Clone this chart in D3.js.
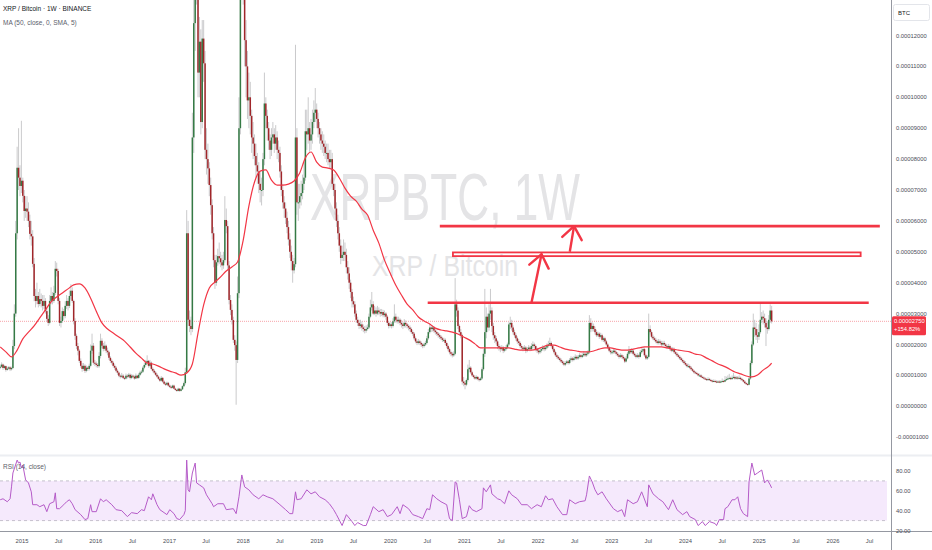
<!DOCTYPE html>
<html><head><meta charset="utf-8">
<script src="https://cdn.jsdelivr.net/npm/d3@7"></script>
<style>
body{margin:0;background:#fff}
svg{display:block;font-family:"Liberation Sans",Arial,sans-serif}
</style>
</head><body>
<svg id="c" width="932" height="550"></svg>
<script>
// ===== DATA (prices in units of 1e-7 BTC) =====
const UNIT = 1e-7;
const firstWeek = "2014-09-15";
const firstOpen = 126;
const closes = [
128,135,124,130,118,122,126,120,124,195,
300,560,772,740,713,730,681,632,640,630,
600,558,550,461,357,341,357,331,347,341,
325,341,308,283,270,341,357,341,367,445,
438,341,270,276,308,292,325,341,325,357,
374,341,276,228,195,180,147,131,121,131,
115,125,121,131,180,196,141,138,134,130,
163,212,196,186,196,180,175,157,147,141,
131,125,115,109,99,96,99,92,90,99,
96,102,92,99,96,90,99,92,102,109,
112,125,134,141,147,131,141,121,115,109,
102,96,89,83,92,80,73,70,76,67,
63,60,67,57,53,50,57,50,55,65,
75,110,560,280,260,250,870,1240,1600,1450,
1080,1180,920,1190,1110,830,800,770,716,651,
560,473,400,466,486,479,466,456,473,603,
583,456,344,312,279,215,198,150,366,900,
1500,1800,1400,1185,1100,990,1000,940,870,850,
810,780,760,720,700,700,800,980,940,900,
860,830,870,880,850,870,830,820,760,700,
660,640,610,580,540,500,470,440,460,870,
660,660,680,690,720,740,890,880,900,860,
880,920,950,960,930,900,880,860,850,840,
820,820,800,790,800,720,700,640,600,560,
520,480,490,500,490,450,430,400,370,340,
330,300,280,270,260,265,255,250,245,250,
255,290,320,330,300,310,300,310,305,300,
305,295,300,290,270,260,265,260,275,290,
280,275,280,270,265,260,270,265,260,255,
250,240,235,220,210,205,210,205,200,195,
200,205,220,240,255,250,255,245,240,235,
230,225,220,215,215,205,195,185,175,170,
165,170,330,310,260,240,230,80,75,70,
85,120,125,110,100,95,90,95,88,85,
90,120,170,240,290,255,300,310,260,230,
220,210,195,190,185,190,180,185,190,200,
265,270,255,240,230,220,210,205,195,190,
185,190,180,185,190,185,195,200,195,185,
180,175,180,185,190,185,190,195,200,205,
195,185,175,165,160,155,150,145,140,135,
140,145,140,150,155,150,155,160,155,160,
165,160,165,170,165,170,175,270,250,260,
250,240,230,235,225,230,215,220,210,200,
190,180,175,175,180,175,170,165,160,165,
160,155,145,155,170,180,175,180,170,165,
160,165,160,175,180,185,165,155,160,250,
240,225,220,215,210,205,210,205,200,205,
200,195,190,195,185,180,185,175,170,165,
160,155,150,145,140,135,130,130,125,120,
115,110,108,105,100,100,95,93,90,88,
85,88,85,83,80,82,80,78,80,78,
80,82,80,85,88,90,92,88,92,95,
90,93,90,92,88,85,80,75,72,70,
90,140,200,255,250,230,225,240,280,290,
285,270,255,250,280,310,275];
const highs = [
135,142,138,134,132,128,130,130,128,215,
330,600,840,900,780,924,740,700,680,680,
660,620,600,570,480,380,400,370,380,365,
360,360,350,320,295,360,385,370,390,470,
465,445,350,290,320,315,340,360,350,375,
395,385,345,285,235,205,185,155,140,140,
136,132,130,138,200,235,205,150,145,140,
175,235,220,205,210,200,190,180,162,152,
146,138,130,120,112,103,108,104,96,106,
104,108,106,104,103,100,106,102,108,115,
118,130,142,150,165,150,150,145,126,120,
114,107,100,93,98,95,84,78,80,79,
71,67,70,70,60,56,60,59,58,68,
80,125,635,600,310,290,950,1400,1900,1800,
1500,1260,1220,1250,1250,1150,900,850,790,740,
670,580,490,490,510,530,500,490,500,680,
640,600,470,360,330,290,230,210,420,1000,
1700,2200,1900,1500,1250,1150,1080,1050,960,920,
880,850,820,790,760,740,820,1080,1000,960,
920,880,900,920,900,910,890,860,840,780,
720,680,660,630,600,560,520,490,480,1170,
900,720,720,730,750,790,960,960,1000,920,
930,960,990,1030,980,950,920,900,890,880,
860,850,850,830,830,820,740,720,660,620,
580,540,520,540,530,510,470,450,410,380,
355,340,310,290,280,280,275,265,260,262,
265,300,345,370,340,325,320,325,320,315,
315,312,310,305,295,275,272,272,285,330,
300,290,290,285,280,272,282,278,270,265,
262,255,246,240,226,216,218,215,210,205,
206,212,228,250,266,262,262,260,250,245,
240,236,230,225,222,220,210,200,190,180,
176,178,415,345,320,265,250,235,95,82,
90,135,150,130,115,104,100,100,98,92,
95,126,185,380,320,300,330,380,320,270,
240,228,215,202,196,198,195,192,198,206,
272,290,280,262,248,236,226,218,210,202,
195,198,195,192,198,196,204,210,206,200,
190,186,188,192,198,196,198,204,212,222,
210,200,190,180,170,165,160,155,150,146,
146,150,150,156,162,160,162,168,165,166,
172,170,172,178,175,178,182,295,285,272,
268,258,248,242,240,238,235,226,225,215,
205,195,186,182,186,185,180,176,170,172,
170,166,160,162,176,195,186,188,184,175,
170,172,170,182,188,192,190,170,165,300,
262,246,232,226,222,216,218,216,212,212,
212,205,200,202,200,192,192,190,180,175,
170,165,160,155,150,146,140,138,135,130,
124,118,114,112,108,106,104,99,97,94,
92,94,92,89,86,87,86,84,84,84,
84,90,86,98,96,100,105,96,100,108,
100,98,98,100,96,92,88,84,78,76,
95,148,210,300,280,270,250,265,337,305,
310,300,285,275,295,330,325];
const lows = [
120,125,118,120,112,115,118,114,116,120,
185,290,540,700,680,690,660,600,610,600,
580,540,520,450,340,320,330,320,325,320,
310,315,300,275,260,265,330,330,335,360,
420,330,260,255,270,280,285,315,310,318,
345,335,265,215,185,165,140,125,112,115,
108,110,114,116,126,170,135,130,126,124,
125,155,188,178,180,172,165,150,140,135,
125,118,110,102,94,90,92,88,85,87,
90,92,87,88,91,86,88,88,89,98,
104,108,120,128,135,125,126,116,110,104,
98,92,85,79,80,76,70,66,67,63,
59,56,58,55,50,47,48,47,48,53,
62,70,105,260,240,230,240,820,1150,1300,
1000,1000,880,900,1050,800,750,720,680,620,
540,450,380,390,455,460,450,440,445,465,
560,440,330,295,265,205,180,5,140,350,
880,1400,1300,1100,1000,930,900,880,820,800,
780,740,720,690,660,650,680,780,900,860,
830,800,810,850,820,830,800,790,740,680,
640,610,590,560,520,480,440,400,430,450,
620,600,640,650,670,700,730,830,850,820,
830,850,900,920,900,870,850,830,820,810,
800,790,780,770,770,700,680,620,580,540,
500,460,470,470,470,430,410,380,350,320,
320,290,270,260,250,252,245,240,236,238,
245,250,285,310,295,295,290,295,295,290,
292,288,288,280,262,252,255,252,255,270,
270,268,268,262,255,250,255,255,252,246,
242,234,228,214,204,198,200,198,192,188,
190,195,200,215,235,240,242,238,232,228,
222,218,214,208,208,198,188,178,168,162,
158,160,165,290,250,230,220,70,65,55,
65,80,110,105,96,90,86,86,84,80,
82,86,115,160,220,240,245,280,240,215,
205,200,185,180,175,180,172,175,180,185,
195,250,245,232,222,212,202,198,188,183,
178,180,172,175,180,178,180,188,186,178,
172,168,170,174,180,178,180,185,190,195,
190,180,170,160,154,150,145,140,135,130,
130,136,135,136,145,145,146,150,150,150,
155,155,156,160,160,160,165,170,240,242,
242,232,224,225,218,220,210,208,204,194,
185,175,168,168,170,170,164,160,154,156,
154,150,140,142,152,165,170,170,165,160,
155,156,154,158,170,175,160,150,150,155,
232,220,214,210,204,200,200,200,194,196,
194,190,185,186,180,175,176,170,165,160,
155,150,145,140,135,130,126,125,120,116,
111,106,104,101,97,96,92,90,87,85,
82,83,82,80,77,78,77,75,76,75,
75,77,77,78,82,85,87,85,86,89,
86,87,86,87,84,82,77,72,69,67,
68,86,135,195,225,215,205,215,235,270,
265,255,195,235,245,270,268];
// MA(50), one value every 4 weeks (last = final week)
const ma50Every4 = [
192,176,160,182,218,240,260,286,312,338,
354,367,380,393,396,383,350,308,270,250,
237,224,211,192,172,156,140,137,130,121,
114,108,101,108,137,237,328,383,402,419,
438,451,467,538,648,726,761,765,732,716,
716,719,729,755,804,823,790,774,771,765,
739,706,680,664,638,619,570,528,473,431,
392,360,331,312,289,276,266,253,247,244,
240,234,224,215,202,189,189,189,189,189,
189,185,182,182,182,185,192,198,198,192,
185,182,179,176,176,179,185,189,189,185,
182,182,185,189,192,192,192,192,189,185,
182,179,176,169,166,156,147,137,130,121,
111,105,98,95,101,117,130,140];
// RSI(14): week index -> value
const rsiWeek = [0,2,5,7,8,9,12,13,14,15,16,18,20,22,23,26,28,31,33,35,38,39,40,42,45,47,49,51,53,57,60,62,64,65,68,71,73,75,79,82,86,90,93,97,100,102,105,107,108,111,113,118,120,123,125,127,130,131,132,133,134,136,138,139,141,144,146,150,151,154,158,160,165,167,169,171,173,176,179,183,186,189,193,198,202,205,207,209,210,213,217,220,223,226,230,233,236,238,242,245,249,251,253,257,259,262,264,268,271,274,277,281,283,285,289,292,296,299,302,304,306,309,312,316,318,320,322,323,325,327,330,332,334,337,341,342,344,347,348,352,354,357,360,362,366,369,373,376,380,383,386,388,391,394,398,401,403,407,410,414,415,417,419,421,423,426,429,434,437,440,442,444,448,451,454,458,459,462,466,469,473,476,479,483,486,488,492,494,497,499,502,506,507,509,512,513,515,518,520,522,524,526,529,530,532,534,536,539,541,543,545,546];
const rsiValue = [51,52,49,52,64,78,91,88,89,83,86,71,68,59,46,46,44,46,39,47,49,58,42,42,46,49,51,47,41,36,31,32,46,39,39,52,49,51,46,41,40,34,38,37,41,40,54,51,57,46,41,36,41,37,32,31,36,40,91,61,59,78,88,68,66,63,56,47,44,47,47,41,42,37,54,76,64,61,56,52,56,54,52,46,41,37,37,59,51,52,61,57,59,54,51,47,41,36,25,36,29,25,28,25,25,36,44,39,41,34,36,44,37,46,42,36,34,32,42,41,56,52,49,46,32,30,69,68,51,32,34,45,41,39,42,63,59,66,57,52,51,47,60,56,52,46,46,42,46,44,55,51,52,44,36,36,51,47,49,50,56,75,69,61,56,59,52,42,39,41,34,51,47,49,59,44,66,57,52,49,41,51,41,36,39,34,31,25,29,25,29,27,25,31,31,42,44,51,51,54,42,37,34,69,88,76,78,81,68,71,66,63];
const priceTicks = [0.00012,0.00011,0.0001,0.00009,0.00008,0.00007,0.00006,0.00005,0.00004,0.00003,0.00002,0.00001,0,-0.00001];
const rsiTicks = [80,60,40,20];
const tickYears = [2015,2016,2017,2018,2019,2020,2021,2022,2023,2024,2025,2026];
const lastPriceLabel = "0.00002750", lastChangeLabel = "+154.82%";
const lastPrice = 0.0000275;
// user drawings (price levels in BTC, anchored to dates)
const hLines = [
  {price:0.0000583, from:"2020-09-01", to:"2026-08-21"},
  {price:0.0000335, from:"2020-07-03", to:"2026-06-27"}];
const boxes = [{top:0.0000498, bottom:0.0000486, from:"2020-11-05", to:"2026-05-18"}];
const arrows = [
  {from:["2021-11-29",0.0000335], to:["2022-01-18",0.0000492]},
  {from:["2022-06-07",0.0000500], to:["2022-06-28",0.0000583]}];

// ===== LAYOUT =====
const W=932,H=550, axisX=891, mainBottom=455, rsiBottom=531;
const svg=d3.select("#c");
const n=closes.length;
const t0=new Date(firstWeek+"T00:00:00Z");
const dates=d3.range(n).map(i=>d3.utcDay.offset(t0,7*i));
const x=d3.scaleUtc().domain([Date.UTC(2015,0,1),Date.UTC(2026,0,1)]).range([22,833]);
const y=d3.scaleLinear().domain([0,0.00012]).range([406.3,35.5]);
const yr=d3.scaleLinear().domain([20,80]).range([530.5,471]);
const pd=s=>new Date(s+"T00:00:00Z");

const defs=svg.append("defs");
defs.append("clipPath").attr("id","cm").append("rect").attr("x",0).attr("y",0).attr("width",axisX).attr("height",mainBottom);
defs.append("clipPath").attr("id","cr").append("rect").attr("x",0).attr("y",mainBottom+1).attr("width",axisX).attr("height",rsiBottom-mainBottom-1);

svg.append("rect").attr("width",W).attr("height",H).attr("fill","#fff");

// ===== MAIN PANE =====
const gm=svg.append("g").attr("clip-path","url(#cm)");
gm.append("text").attr("x",310).attr("y",220).attr("font-size",66).attr("fill","#e4e4e6")
  .attr("textLength",270).attr("lengthAdjust","spacingAndGlyphs").text("XRPBTC, 1W");
gm.append("text").attr("x",372).attr("y",276).attr("font-size",29).attr("fill","#e4e4e6")
  .attr("textLength",146).attr("lengthAdjust","spacingAndGlyphs").text("XRP / Bitcoin");
gm.append("line").attr("x1",0).attr("x2",axisX).attr("y1",y(lastPrice)).attr("y2",y(lastPrice))
  .attr("stroke","#f7a3aa").attr("stroke-width",1).attr("stroke-dasharray","1,1");
const opens=closes.map((c,i)=>i===0?firstOpen:closes[i-1]);
const cg=gm.append("g");
cg.selectAll("line.w").data(d3.range(n)).join("line").attr("class","w")
  .attr("x1",i=>x(dates[i])).attr("x2",i=>x(dates[i]))
  .attr("y1",i=>y(highs[i]*UNIT)).attr("y2",i=>y(lows[i]*UNIT))
  .attr("stroke","#c4c4c6").attr("stroke-width",0.9);
cg.selectAll("rect.b").data(d3.range(n)).join("rect").attr("class","b")
  .attr("x",i=>x(dates[i])-0.75).attr("width",1.5)
  .attr("y",i=>y(Math.max(opens[i],closes[i])*UNIT))
  .attr("height",i=>Math.max(1,Math.abs(y(opens[i]*UNIT)-y(closes[i]*UNIT))))
  .attr("fill",i=>closes[i]>=opens[i]?"#357a45":"#a0262a");
const maPts=ma50Every4.map((v,k)=>[dates[Math.min(k*4,n-1)],v]);
gm.append("path").attr("d",d3.line().x(d=>x(d[0])).y(d=>y(d[1]*UNIT)).curve(d3.curveMonotoneX)(maPts))
  .attr("fill","none").attr("stroke","#f23645").attr("stroke-width",1.2);
const red="#f23645";
hLines.forEach(l=>gm.append("line").attr("x1",x(pd(l.from))).attr("x2",x(pd(l.to)))
  .attr("y1",y(l.price)).attr("y2",y(l.price)).attr("stroke",red).attr("stroke-width",2.6));
boxes.forEach(b=>gm.append("rect").attr("x",x(pd(b.from))).attr("width",x(pd(b.to))-x(pd(b.from)))
  .attr("y",y(b.top)).attr("height",y(b.bottom)-y(b.top)).attr("fill","none").attr("stroke",red).attr("stroke-width",1.8));
arrows.forEach(a=>{
  const x1=x(pd(a.from[0])),y1=y(a.from[1]),x2=x(pd(a.to[0])),y2=y(a.to[1]);
  gm.append("line").attr("x1",x1).attr("y1",y1).attr("x2",x2).attr("y2",y2).attr("stroke",red).attr("stroke-width",2.4);
  const ang=Math.atan2(y1-y2,x1-x2), L=16, sp=38*Math.PI/180;
  [ang-sp,ang+sp].forEach(a2=>gm.append("line").attr("x1",x2).attr("y1",y2)
    .attr("x2",x2+L*Math.cos(a2)).attr("y2",y2+L*Math.sin(a2)).attr("stroke",red).attr("stroke-width",2.4).attr("stroke-linecap","round"));
});

// ===== RSI PANE =====
const gr=svg.append("g").attr("clip-path","url(#cr)");
gr.append("rect").attr("x",0).attr("width",887).attr("y",yr(70)).attr("height",yr(30)-yr(70)).attr("fill","#f5e9fc");
[70,30].forEach(v=>gr.append("line").attr("x1",0).attr("x2",887).attr("y1",yr(v)).attr("y2",yr(v))
  .attr("stroke","#c5c0cc").attr("stroke-dasharray","3,3").attr("stroke-width",1));
gr.append("path").attr("d",d3.line().x((d,k)=>x(dates[rsiWeek[k]])).y(d=>yr(d))(rsiValue))
  .attr("fill","none").attr("stroke","#b55bc8").attr("stroke-width",1);

// ===== AXES & FRAME =====
svg.append("line").attr("x1",0).attr("x2",W).attr("y1",mainBottom+0.5).attr("y2",mainBottom+0.5).attr("stroke","#eceef2").attr("stroke-width",2);
svg.append("line").attr("x1",0).attr("x2",W).attr("y1",rsiBottom+0.5).attr("y2",rsiBottom+0.5).attr("stroke","#9598a1").attr("stroke-width",1);
svg.append("line").attr("x1",axisX+0.5).attr("x2",axisX+0.5).attr("y1",0).attr("y2",H).attr("stroke","#9598a1").attr("stroke-width",1);

const fs=5.8, tc="#4a4d57";
svg.append("g").selectAll("text").data(priceTicks).join("text")
  .attr("x",896).attr("y",d=>y(d)).attr("dy","0.35em").attr("font-size",fs).attr("fill",tc)
  .text(d=>d3.format(".8f")(d).replace("−","-"));
svg.append("g").selectAll("text").data(rsiTicks).join("text")
  .attr("x",896).attr("y",d=>yr(d)).attr("dy","0.35em").attr("font-size",fs).attr("fill",tc)
  .text(d=>d3.format(".2f")(d));
const ly=y(lastPrice);
svg.append("rect").attr("x",892).attr("y",ly-5).attr("width",34).attr("height",19).attr("rx",1.5).attr("fill","#f23645");
svg.append("text").attr("x",894).attr("y",ly).attr("dy","0.35em").attr("font-size",fs).attr("fill","#fff").text(lastPriceLabel);
svg.append("text").attr("x",894).attr("y",ly+8).attr("dy","0.35em").attr("font-size",fs).attr("fill","#fff").text(lastChangeLabel);
svg.append("rect").attr("x",893.5).attr("y",4.5).attr("width",36).attr("height",16).attr("rx",2).attr("fill","#fff").attr("stroke","#e3e5ea");
svg.append("text").attr("x",898).attr("y",12.5).attr("dy","0.35em").attr("font-size",6).attr("fill","#131722").text("BTC");
const xt=[];
tickYears.forEach(yv=>{xt.push([Date.UTC(yv,0,1),String(yv)]);xt.push([Date.UTC(yv,6,1),"Jul"]);});
svg.append("g").selectAll("text").data(xt.filter(d=>x(d[0])<axisX-6)).join("text")
  .attr("x",d=>x(d[0])).attr("y",541).attr("dy","0.35em").attr("text-anchor","middle")
  .attr("font-size",fs).attr("fill",tc).text(d=>d[1]);
svg.append("text").attr("x",3).attr("y",11).attr("font-size",6.5).attr("fill","#131722").text("XRP / Bitcoin · 1W · BINANCE");
svg.append("text").attr("x",3).attr("y",24.5).attr("font-size",6.5).attr("fill","#5d606b").text("MA (50, close, 0, SMA, 5)");
svg.append("text").attr("x",3).attr("y",469).attr("font-size",6.5).attr("fill","#5d606b").text("RSI (14, close)");
</script>
</body></html>
